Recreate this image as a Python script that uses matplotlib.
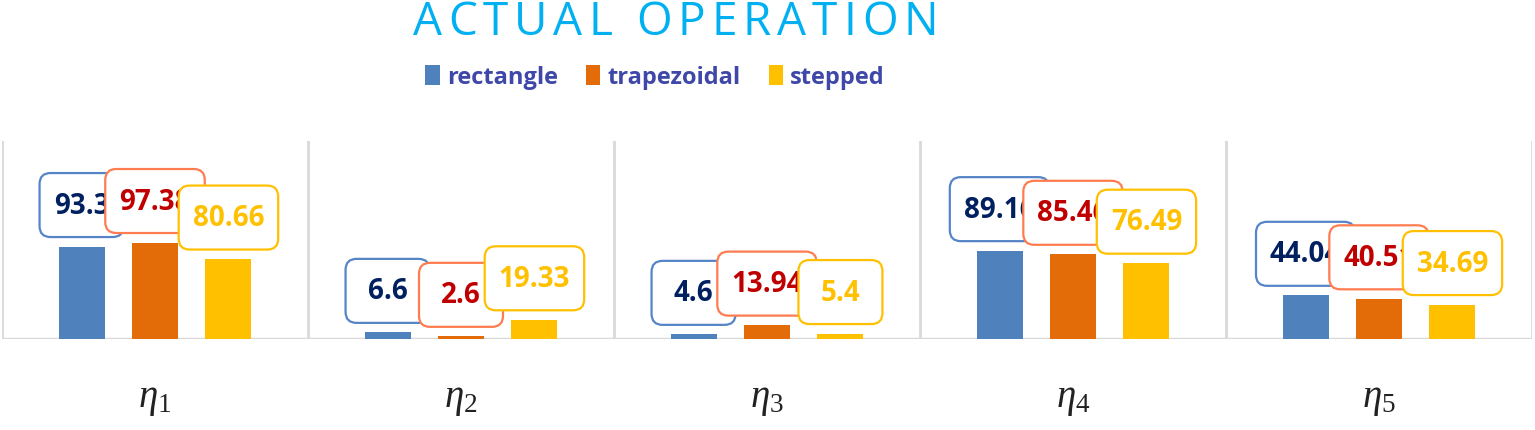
import matplotlib
matplotlib.use("Agg")
import matplotlib.pyplot as plt
from matplotlib.patches import Patch, BoxStyle
from matplotlib.transforms import IdentityTransform
import numpy as np

categories = [r"$\eta_1$", r"$\eta_2$", r"$\eta_3$", r"$\eta_4$", r"$\eta_5$"]
series_names = ["rectangle", "trapezoidal", "stepped"]
rectangle = [93.3, 6.6, 4.6, 89.16, 44.04]
trapezoidal = [97.38, 2.6, 13.94, 85.46, 40.51]
stepped = [80.66, 19.33, 5.4, 76.49, 34.69]
title = "ACTUAL OPERATION"

series = [rectangle, trapezoidal, stepped]
bar_colors = ["#4F81BD", "#E36C09", "#FFC000"]
edge_colors = ["#5585C8", "#FF7C50", "#FFC000"]
text_colors = ["#002060", "#C00000", "#FFC000"]

plt.rcParams["mathtext.fontset"] = "custom"
plt.rcParams["mathtext.it"] = "Liberation Serif:italic"
plt.rcParams["mathtext.rm"] = "Liberation Serif"

W, H = 1535, 431
fig = plt.figure(figsize=(W / 100, H / 100), dpi=100)
ax = fig.add_axes([2 / W, 91 / H, 1530 / W, 198 / H])

_round = BoxStyle.Round(pad=0, rounding_size=11)


def callout_box(x0, y0, width, height, mutation_size):
    """Rounded callout with a minimum width, like spreadsheet data callouts."""
    vpad = 0.63 * mutation_size
    new_w = max(84.0, width + 28.0)
    cx = x0 + width / 2.0
    return _round(cx - new_w / 2.0, y0 - vpad, new_w, height + 2 * vpad, 1.0)


x = np.arange(len(categories))
width = 0.15
offsets = [-0.24, 0.0, 0.24]

for i, (vals, off) in enumerate(zip(series, offsets)):
    ax.bar(x + off, vals, width, color=bar_colors[i], zorder=2,
           label=series_names[i])
    for xi, v in zip(x + off, vals):
        ax.annotate(f"{v:g}", (xi, v), xytext=(0, 19.5), textcoords="offset points",
                    ha="center", va="bottom", fontsize=20, fontweight="bold",
                    family="Open Sans", color=text_colors[i], zorder=3 + i,
                    bbox=dict(boxstyle=callout_box,
                              fc="white", ec=edge_colors[i], lw=1.6),
                    annotation_clip=False)

ax.set_xlim(-0.5, 4.5)
ax.set_ylim(0, 200)
ax.set_yticks([])
ax.set_xticks(x)
ax.set_xticklabels(categories, fontsize=28, color="#222222")
ax.tick_params(axis="x", length=0, pad=29)
for xv in np.arange(-0.5, 5.0, 1.0):
    ax.axvline(xv, color="#D9D9D9", lw=2, zorder=1)
for s in ax.spines.values():
    s.set_visible(False)
ax.axhline(0, color="#D9D9D9", lw=2.5, zorder=1)

# title with letter spacing
renderer = fig.canvas.get_renderer()
tkw = dict(fontsize=33, color="#00B0F0", family="Open Sans", va="center",
           ha="left", transform=IdentityTransform())


def text_width(s):
    t = fig.text(0, 0, s, **tkw)
    w = t.get_window_extent(renderer).width
    t.remove()
    return w


full_w = text_width(title)
left_px, right_px = 413, 938
spacing = ((right_px - left_px) - full_w) / (len(title) - 1)
for k, ch in enumerate(title):
    if ch == " ":
        continue
    pre = text_width(title[:k + 1]) - text_width(ch)
    fig.text(left_px + pre + k * spacing, H - 23, ch, **tkw)

handles = [Patch(facecolor=c, edgecolor="none") for c in bar_colors]
fig.legend(handles, series_names, loc="center",
           bbox_to_anchor=(655 / W, 1 - 78 / H), ncol=3,
           frameon=False, handlelength=0.6, handleheight=0.95,
           handletextpad=0.3, columnspacing=1.2,
           prop={"family": "Open Sans", "weight": "bold", "size": 17},
           labelcolor="#3F48A8")

fig.savefig("out.png", dpi=100, facecolor="white")
